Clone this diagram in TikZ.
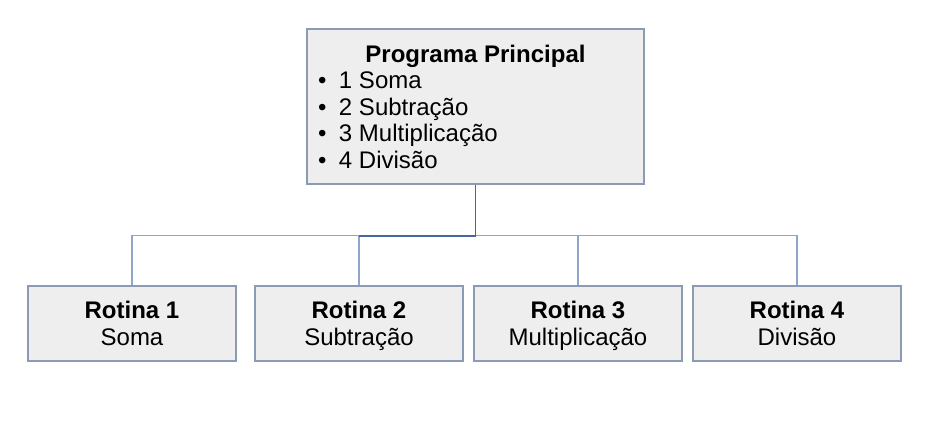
\documentclass[tikz,border=0pt]{standalone}
\usepackage{fontspec}
\setmainfont{Liberation Sans}
\usetikzlibrary{positioning,calc}
\definecolor{boxfill}{HTML}{EEEEEE}
\definecolor{boxline}{HTML}{8C9BB4}
\definecolor{linkdark}{HTML}{45669E}
\definecolor{linklight}{HTML}{8FA6C8}
\newcommand{\bulletitem}[1]{\makebox[236.25pt][l]{\makebox[15.75pt][l]{•}#1}}
\newcommand{\topstrut}{\rule{0pt}{17pt}}
\newcommand{\botstrut}{\rule[-4pt]{0pt}{4pt}}

\begin{document}
\begin{tikzpicture}[x=0.75pt,y=-0.75pt,
  prog/.style={draw=boxline,fill=boxfill,line width=0.9pt,inner sep=0pt,
    minimum width=252.75pt,minimum height=116.25pt,align=center,
    font=\fontsize{18}{19.9}\selectfont},
  rotina/.style={draw=boxline,fill=boxfill,line width=0.9pt,inner sep=0pt,
    minimum width=156pt,minimum height=56.25pt,align=center,
    font=\fontsize{18}{19.9}\selectfont}]

\useasboundingbox (0,0) rectangle (930,424);

\node[prog] (main) at (475.5,106.5) {\textbf{Programa Principal}\\
  \bulletitem{1 Soma}\\ \bulletitem{2 Subtração}\\
  \bulletitem{3 Multiplicação}\\ \bulletitem{4 Divisão}};

\node[rotina] (r1) at (132,323.5) {\topstrut\textbf{Rotina 1}\\Soma\botstrut};
\node[rotina] (r2) at (359,323.5) {\topstrut\textbf{Rotina 2}\\Subtração\botstrut};
\node[rotina] (r3) at (578,323.5) {\topstrut\textbf{Rotina 3}\\Multiplicação\botstrut};
\node[rotina] (r4) at (797,323.5) {\topstrut\textbf{Rotina 4}\\Divisão\botstrut};

\coordinate (bus) at ($(main.south)+(0,51)$);

\draw[linklight,line width=0.9pt] (r1.north) -- (r1.north |- bus) -- (r4.north |- bus) -- (r4.north);
\draw[linklight,line width=0.9pt] (r2.north) -- (r2.north |- bus);
\draw[linklight,line width=0.9pt] (r3.north) -- (r3.north |- bus);
\draw[linkdark,line width=1.4pt] (main.south) -- (bus) -- (bus -| r2.north);
\end{tikzpicture}
\end{document}
